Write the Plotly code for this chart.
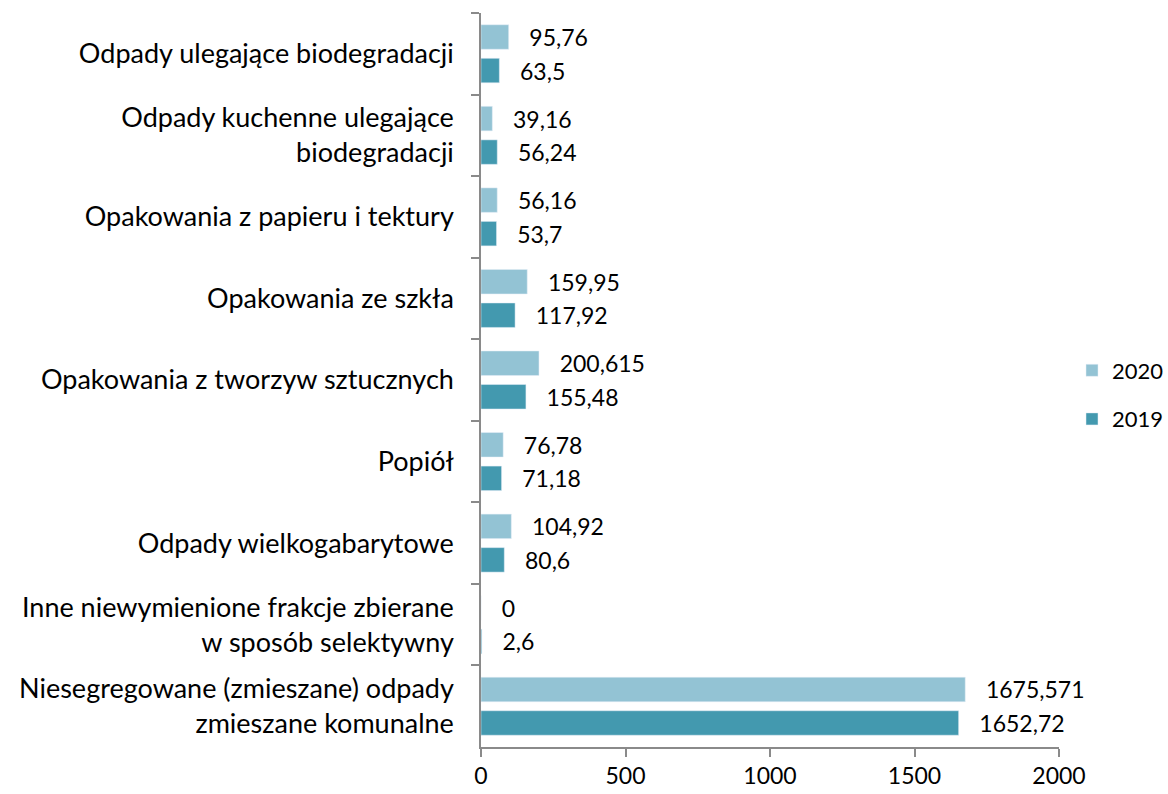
import plotly.graph_objects as go

categories = [
    "Odpady ulegające biodegradacji",
    "Odpady kuchenne ulegające<br>biodegradacji",
    "Opakowania z papieru i tektury",
    "Opakowania ze szkła",
    "Opakowania z tworzyw sztucznych",
    "Popiół",
    "Odpady wielkogabarytowe",
    "Inne niewymienione frakcje zbierane<br>w sposób selektywny",
    "Niesegregowane (zmieszane) odpady<br>zmieszane komunalne",
]
values_2020 = [95.76, 39.16, 56.16, 159.95, 200.615, 76.78, 104.92, 0, 1675.571]
values_2019 = [63.5, 56.24, 53.7, 117.92, 155.48, 71.18, 80.6, 2.6, 1652.72]
labels_2020 = ["95,76", "39,16", "56,16", "159,95", "200,615", "76,78", "104,92", "0", "1675,571"]
labels_2019 = ["63,5", "56,24", "53,7", "117,92", "155,48", "71,18", "80,6", "2,6", "1652,72"]
x_ticks = [0, 500, 1000, 1500, 2000]

FONT = "Lato"
FS_CAT = 27
FS_NUM = 23
light = "#93C3D4"
dark = "#4399AF"
axis_grey = "#8A8A8A"

fig = go.Figure()
fig.add_trace(go.Bar(
    y=categories, x=values_2020, orientation="h", name="2020",
    marker=dict(color=light), text=["   " + t for t in labels_2020],
    textposition="outside", cliponaxis=False, legendgroup="a",
    constraintext="none",
    textfont=dict(family=FONT, size=FS_NUM, color="black"),
))
fig.add_trace(go.Bar(
    y=categories, x=values_2019, orientation="h", name="2019",
    marker=dict(color=dark), text=["   " + t for t in labels_2019],
    textposition="outside", cliponaxis=False, legendgroup="b",
    constraintext="none",
    textfont=dict(family=FONT, size=FS_NUM, color="black"),
))

fig.update_layout(
    width=1168, height=794,
    margin=dict(l=481, r=109, t=13, b=47, autoexpand=False),
    paper_bgcolor="white", plot_bgcolor="white",
    font=dict(family=FONT, size=FS_NUM, color="black"),
    barmode="group", bargap=0.178, bargroupgap=0.27,
    showlegend=True,
    legend=dict(x=1072 / 1168, y=1 - 395 / 794, xref="container", yref="container",
                xanchor="left", yanchor="middle",
                traceorder="grouped", tracegroupgap=17,
                font=dict(family=FONT, size=22, color="black")),
)
fig.update_xaxes(
    range=[0, 2000], tickvals=x_ticks, ticktext=[str(v) for v in x_ticks],
    showgrid=False, zeroline=False, showline=True, linecolor=axis_grey, linewidth=1.5,
    ticks="outside", ticklen=8, tickcolor=axis_grey, tickwidth=1.5,
    tickfont=dict(family=FONT, size=FS_NUM, color="black"), automargin=False,
)
fig.update_yaxes(
    autorange="reversed", showgrid=False, zeroline=False,
    showline=True, linecolor=axis_grey, linewidth=1.5,
    ticks="outside", ticklen=8, tickcolor=axis_grey, tickwidth=1.5,
    tickson="boundaries", ticklabelstandoff=20, automargin=False,
    tickfont=dict(family=FONT, size=FS_CAT, color="black"),
)

fig.write_html(
    "out.html",
    config={"displayModeBar": False},
    post_script="document.body.style.margin='0';document.body.style.overflow='hidden';",
)
